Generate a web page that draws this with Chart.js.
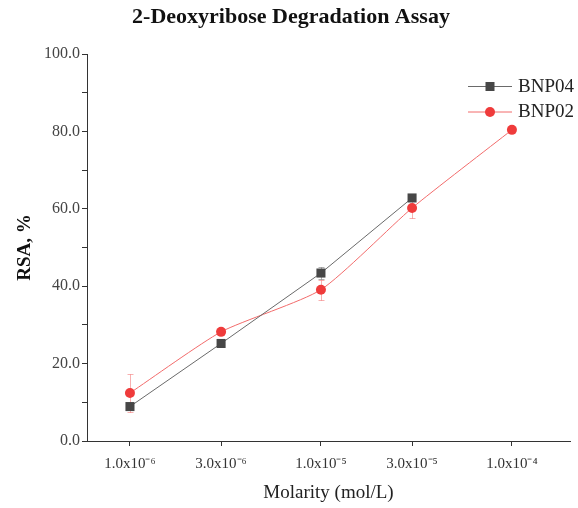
<!DOCTYPE html>
<html>
<head>
<meta charset="utf-8">
<script src="https://cdn.jsdelivr.net/npm/chart.js@4/dist/chart.umd.min.js"></script>
<style>
  html, body { margin: 0; padding: 0; background: #fff; }
  #wrap { width: 578px; height: 508px; }
</style>
</head>
<body>
<div id="wrap"><canvas id="chart" width="578" height="508"></canvas></div>
<script>
// Degradation assay values
const molarity = [1e-6, 3e-6, 1e-5, 3e-5, 1e-4];
const tickLabels = ['1.0x10⁻⁶', '3.0x10⁻⁶', '1.0x10⁻⁵', '3.0x10⁻⁵', '1.0x10⁻⁴'];
const bnp04 = [8.9, 25.2, 43.4, 62.8];
const bnp04Err = [0.6, 0.5, 1.5, 0.6];
const bnp02 = [12.4, 28.2, 39.1, 60.2, 80.4];
const bnp02Err = [4.9, 0.6, 2.6, 2.6, 0.4];

const serif = "'Liberation Serif', 'Times New Roman', serif";

function toPoints(values) {
  return values.map((v, i) => ({ x: molarity[i], y: v }));
}

// Error bars drawn under the markers
const errorBars = {
  id: 'errorBars',
  beforeDatasetsDraw(chart) {
    const { ctx, scales: { x, y } } = chart;
    chart.data.datasets.forEach(ds => {
      if (!ds.errors) return;
      ctx.save();
      ctx.strokeStyle = ds.errorColor;
      ctx.lineWidth = 1;
      ds.data.forEach((pt, i) => {
        const err = ds.errors[i];
        const px = Math.round(x.getPixelForValue(pt.x)) + 0.5;
        const top = Math.round(y.getPixelForValue(pt.y + err)) + 0.5;
        const bot = Math.round(y.getPixelForValue(pt.y - err)) + 0.5;
        ctx.beginPath();
        ctx.moveTo(px, top); ctx.lineTo(px, bot);
        ctx.moveTo(px - 3, top); ctx.lineTo(px + 3, top);
        ctx.moveTo(px - 3, bot); ctx.lineTo(px + 3, bot);
        ctx.stroke();
      });
      ctx.restore();
    });
  }
};

// Line + marker legend in the upper right corner
const cornerLegend = {
  id: 'cornerLegend',
  afterDraw(chart) {
    const { ctx } = chart;
    const x0 = 468, x1 = 512;
    chart.data.datasets.forEach((ds, i) => {
      const yy = 86 + i * 25.5;
      ctx.save();
      ctx.strokeStyle = ds.borderColor;
      ctx.lineWidth = 1;
      ctx.beginPath();
      ctx.moveTo(x0, yy + 0.5); ctx.lineTo(x1, yy + 0.5);
      ctx.stroke();
      ctx.fillStyle = ds.pointBackgroundColor;
      const cx = (x0 + x1) / 2;
      if (ds.pointStyle === 'rect') {
        ctx.fillRect(cx - 4.5, yy - 4, 9, 9);
      } else {
        ctx.beginPath();
        ctx.arc(cx, yy + 0.5, 5, 0, Math.PI * 2);
        ctx.fill();
      }
      ctx.fillStyle = '#222';
      ctx.font = '19px ' + serif;
      ctx.textBaseline = 'middle';
      ctx.fillText(ds.label, x1 + 6, yy + 1);
      ctx.restore();
    });
  }
};

const ctx = document.getElementById('chart').getContext('2d');
new Chart(ctx, {
  type: 'line',
  data: {
    datasets: [
      {
        label: 'BNP04',
        data: toPoints(bnp04),
        errors: bnp04Err,
        errorColor: 'rgba(80,80,80,0.45)',
        borderColor: '#6a6a6a',
        borderWidth: 1,
        pointStyle: 'rect',
        pointRadius: 6.4,
        pointBackgroundColor: '#474747',
        pointBorderColor: '#474747',
        pointBorderWidth: 0,
        tension: 0
      },
      {
        label: 'BNP02',
        data: toPoints(bnp02),
        errors: bnp02Err,
        errorColor: 'rgba(240,80,80,0.45)',
        borderColor: '#f26b6b',
        borderWidth: 1,
        pointStyle: 'circle',
        pointRadius: 5,
        pointBackgroundColor: '#ef3b3b',
        pointBorderColor: '#ef3b3b',
        pointBorderWidth: 0,
        tension: 0.2
      }
    ]
  },
  options: {
    responsive: false,
    animation: false,
    layout: { padding: { left: 12, right: 8, top: 0, bottom: 0 } },
    plugins: {
      legend: { display: false },
      tooltip: { enabled: false },
      title: {
        display: true,
        text: '2-Deoxyribose Degradation Assay',
        color: '#111',
        font: { family: serif, size: 22, weight: 'bold' },
        padding: { top: 4, bottom: 23.6 }
      }
    },
    scales: {
      x: {
        type: 'logarithmic',
        min: 5.957e-7,
        max: 2.014e-4,
        afterBuildTicks: scale => {
          scale.ticks = molarity.map(v => ({ value: v }));
        },
        afterFit: scale => { scale.height = 67; },
        grid: { drawOnChartArea: false, drawTicks: true, tickLength: 5, tickColor: '#333' },
        border: { display: true, color: '#333', width: 1 },
        ticks: {
          autoSkip: false,
          maxRotation: 0,
          padding: 9,
          color: '#333',
          font: { family: serif, size: 15 },
          callback: (val, idx) => tickLabels[idx]
        },
        title: {
          display: true,
          text: 'Molarity (mol/L)',
          color: '#222',
          font: { family: serif, size: 19 },
          padding: { top: 0, bottom: 4 }
        }
      },
      y: {
        min: 0,
        max: 100,
        afterFit: scale => { scale.width = 75; },
        grid: { drawOnChartArea: false, drawTicks: true, tickLength: 5, tickColor: '#333' },
        border: { display: true, color: '#333', width: 1 },
        ticks: {
          stepSize: 10,
          padding: 2,
          color: '#444',
          font: { family: serif, size: 16 },
          callback: v => (v % 20 === 0 ? v.toFixed(1) : '')
        },
        title: {
          display: true,
          text: 'RSA, %',
          color: '#111',
          font: { family: serif, size: 19, weight: 'bold' },
          padding: { top: 2, bottom: 0 }
        }
      }
    }
  },
  plugins: [errorBars, cornerLegend]
});
</script>
</body>
</html>
